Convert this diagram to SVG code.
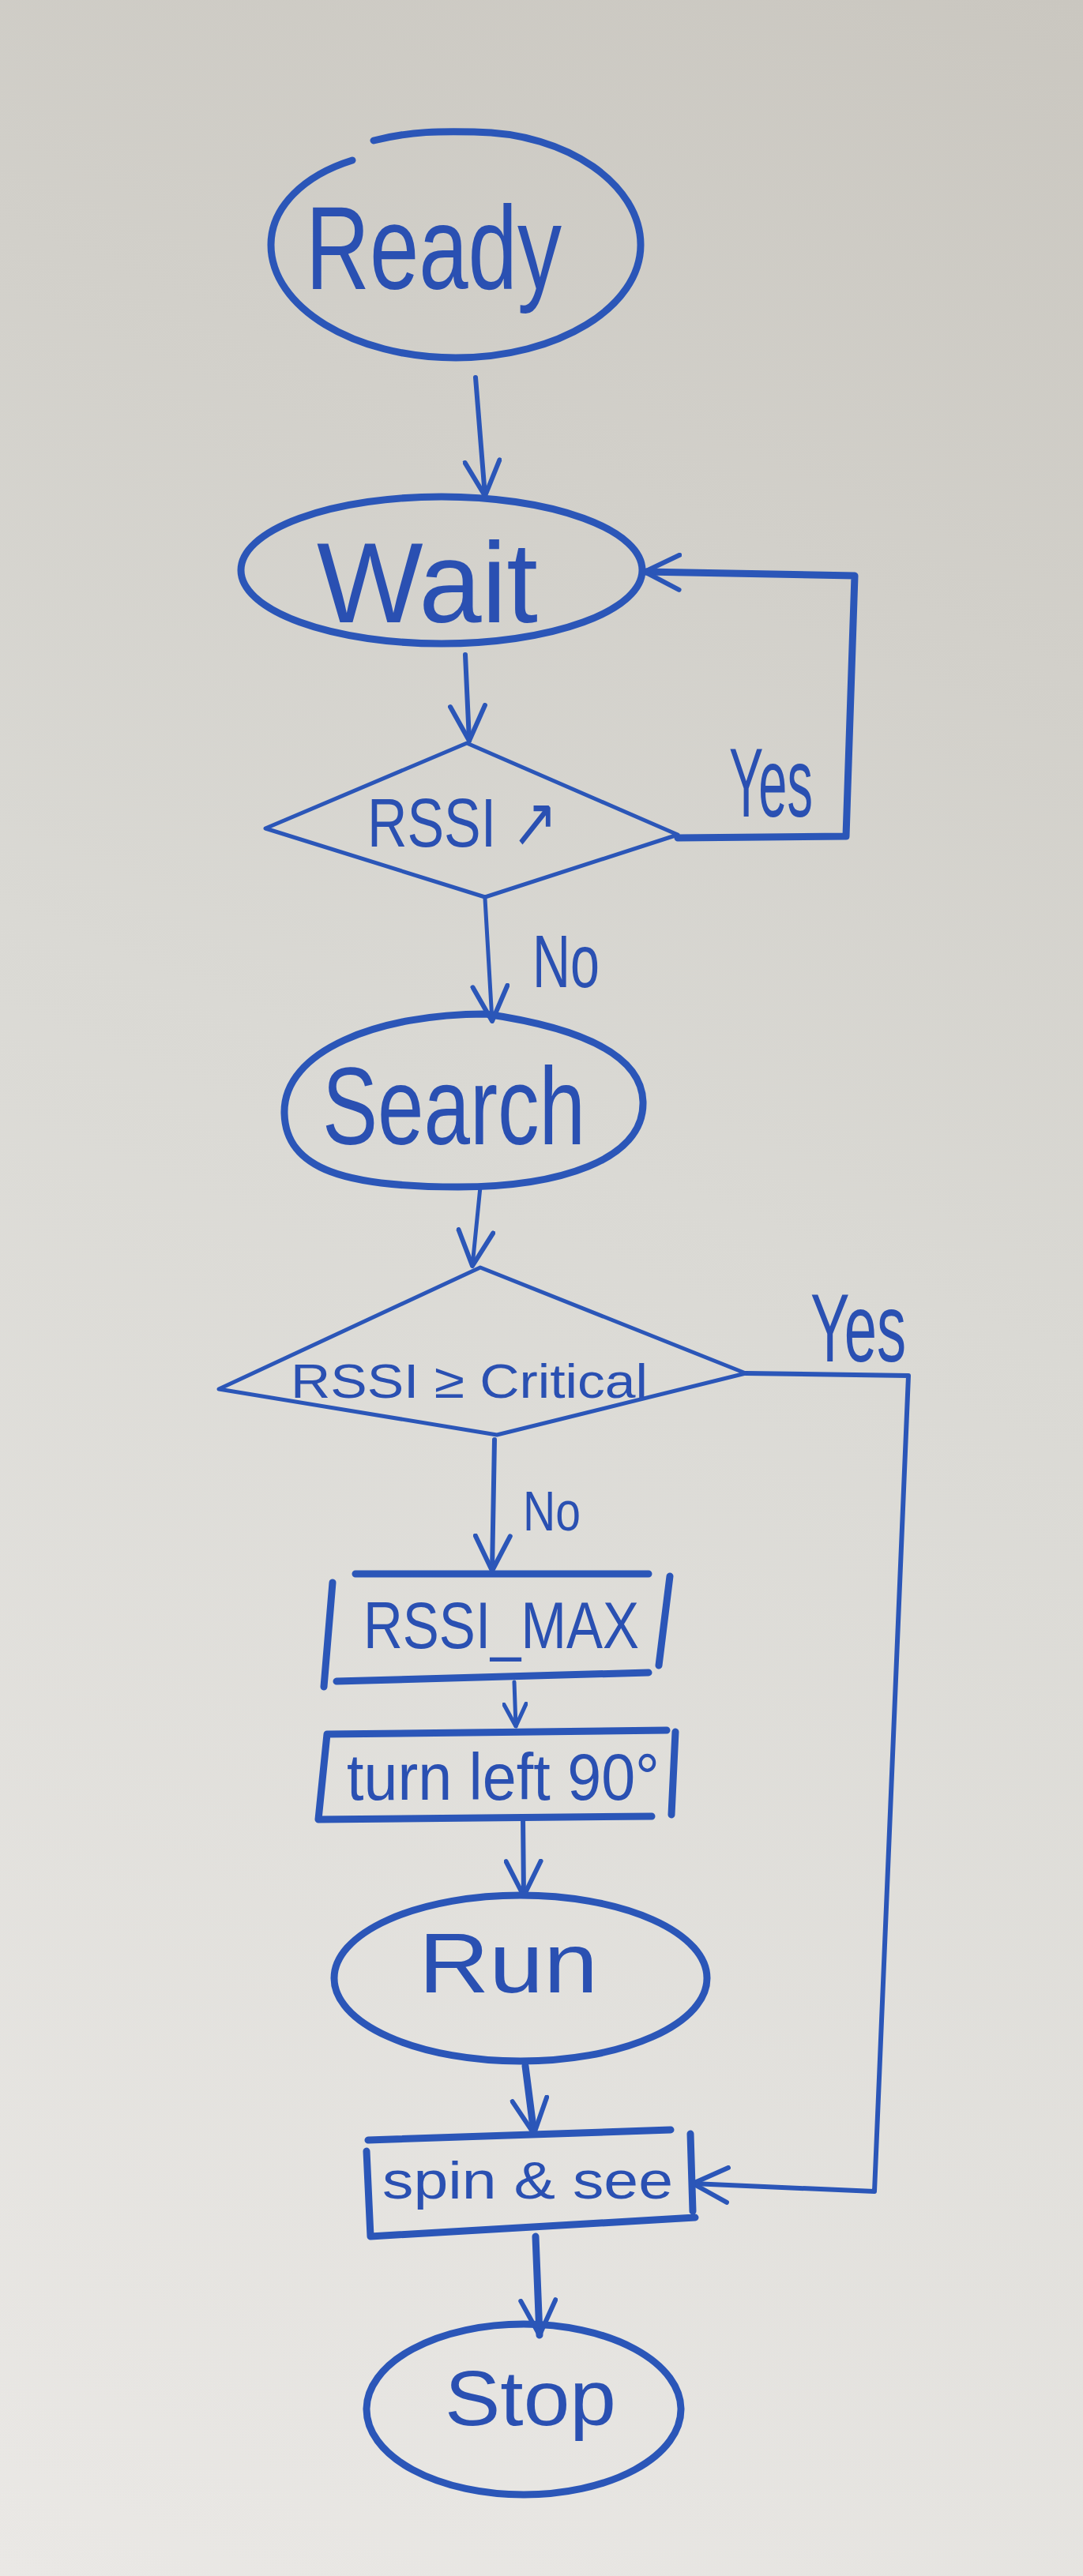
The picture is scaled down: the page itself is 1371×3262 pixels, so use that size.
<svg xmlns="http://www.w3.org/2000/svg" width="1371" height="3262" viewBox="0 0 1371 3262">
<defs>
<linearGradient id="board" gradientUnits="userSpaceOnUse" x1="1371" y1="0" x2="0" y2="3262">
<stop offset="0" stop-color="#cac7c0"/>
<stop offset="0.45" stop-color="#dad9d4"/>
<stop offset="1" stop-color="#eae8e5"/>
</linearGradient>
<marker id="arr" viewBox="0 0 50 50" refX="47" refY="25" markerWidth="50" markerHeight="50" markerUnits="userSpaceOnUse" orient="auto">
<path d="M3,3 L47,25 L3,47" fill="none" stroke="#2b56b8" stroke-width="6" stroke-linecap="round" stroke-linejoin="round"/>
</marker>
<marker id="arrS" viewBox="0 0 50 50" refX="47" refY="25" markerWidth="32" markerHeight="32" markerUnits="userSpaceOnUse" orient="auto">
<path d="M3,3 L47,25 L3,47" fill="none" stroke="#2b56b8" stroke-width="8" stroke-linecap="round" stroke-linejoin="round"/>
</marker>
</defs>
<style>
.ink{fill:none;stroke:#2b56b8;stroke-linecap:round;stroke-linejoin:round}
.b{stroke-width:9}
.m{stroke-width:6}
.t{stroke-width:5}
.lbl{fill:#2a50b2;font-family:"Liberation Sans","DejaVu Sans",sans-serif}
</style>
<rect x="0" y="0" width="1371" height="3262" fill="url(#board)"/>

<g id="connectors">
<path class="ink m" d="M602,478 L614,628" marker-end="url(#arr)"/>
<path class="ink m" d="M589,829 L594,938" marker-end="url(#arr)"/>
<path class="ink b" d="M858,1061 L1071,1059 L1082,729 L816,724" marker-end="url(#arr)"/>
<path class="ink t" d="M614,1138 L623,1293" marker-end="url(#arr)"/>
<path class="ink t" d="M608,1503 L598,1603" marker-end="url(#arr)"/>
<path class="ink m" d="M944,1739 L1150,1742 L1107,2775 L877,2765" marker-end="url(#arr)"/>
<path class="ink m" d="M626,1823 L623,1989" marker-end="url(#arr)"/>
<path class="ink t" d="M651,2130 L653,2186" marker-end="url(#arrS)"/>
<path class="ink m" d="M662,2300 L663,2401" marker-end="url(#arr)"/>
<path class="ink b" d="M665,2616 L676,2702" marker-end="url(#arr)"/>
<path class="ink b" d="M678,2832 L683,2957" marker-end="url(#arr)"/>
</g>

<g id="label-yes-1"><text class="lbl" x="923" y="1034" font-size="125" textLength="106" lengthAdjust="spacingAndGlyphs">Yes</text></g>
<g id="label-no-1"><text class="lbl" x="674" y="1250" font-size="94" textLength="85" lengthAdjust="spacingAndGlyphs">No</text></g>
<g id="label-yes-2"><text class="lbl" x="1026" y="1724" font-size="122" textLength="121" lengthAdjust="spacingAndGlyphs">Yes</text></g>
<g id="label-no-2"><text class="lbl" x="662" y="1938" font-size="70" textLength="73" lengthAdjust="spacingAndGlyphs">No</text></g>

<g id="node-ready">
<path class="ink b" d="M473,178 C520,166 560,166 600,167 C720,168 811,235 811,310 C811,389 706,453 577,453 C448,453 343,389 343,310 C343,262 385,222 446,203"/>
<text class="lbl" x="387" y="366" font-size="150" textLength="324" lengthAdjust="spacingAndGlyphs">Ready</text>
</g>

<g id="node-wait">
<ellipse class="ink b" cx="559" cy="722" rx="254" ry="93"/>
<text class="lbl" x="401" y="788" font-size="145" textLength="280" lengthAdjust="spacingAndGlyphs">Wait</text>
</g>

<g id="node-rssi-up">
<polygon class="ink t" points="591,941 858,1057 614,1136 336,1049"/>
<text class="lbl" x="465" y="1072" font-size="88" textLength="241" lengthAdjust="spacingAndGlyphs">RSSI ↗</text>
</g>

<g id="node-search">
<path class="ink b" d="M615,1284 C725,1300 812,1332 814,1395 C816,1470 705,1503 580,1503 C440,1503 362,1482 360,1410 C358,1330 480,1284 615,1284 Z"/>
<text class="lbl" x="408" y="1449" font-size="140" textLength="333" lengthAdjust="spacingAndGlyphs">Search</text>
</g>

<g id="node-rssi-critical">
<polygon class="ink t" points="608,1605 944,1739 629,1817 277,1759"/>
<text class="lbl" x="368" y="1770" font-size="62" textLength="452" lengthAdjust="spacingAndGlyphs">RSSI ≥ Critical</text>
</g>

<g id="node-rssi-max">
<path class="ink b" d="M450,1993 L821,1993 M426,2129 L821,2118 M421,2004 L410,2136 M848,1996 L834,2109"/>
<text class="lbl" x="460" y="2087" font-size="84" textLength="349" lengthAdjust="spacingAndGlyphs">RSSI_MAX</text>
</g>

<g id="node-turn-left">
<path class="ink b" d="M414,2196 L844,2191 M414,2196 L403,2304 L825,2300 M855,2193 L850,2298"/>
<text class="lbl" x="439" y="2279" font-size="84" textLength="396" lengthAdjust="spacingAndGlyphs">turn left 90°</text>
</g>

<g id="node-run">
<ellipse class="ink b" cx="659" cy="2505" rx="236" ry="105"/>
<text class="lbl" x="530" y="2523" font-size="108" textLength="227" lengthAdjust="spacingAndGlyphs">Run</text>
</g>

<g id="node-spin">
<path class="ink b" d="M466,2710 L849,2697 M464,2724 L469,2832 L880,2808 M874,2702 L877,2800"/>
<text class="lbl" x="484" y="2784" font-size="66" textLength="368" lengthAdjust="spacingAndGlyphs">spin &amp; see</text>
</g>

<g id="node-stop">
<ellipse class="ink b" cx="663" cy="3051" rx="199" ry="108"/>
<text class="lbl" x="563" y="3071" font-size="99" textLength="217" lengthAdjust="spacingAndGlyphs">Stop</text>
</g>
</svg>
